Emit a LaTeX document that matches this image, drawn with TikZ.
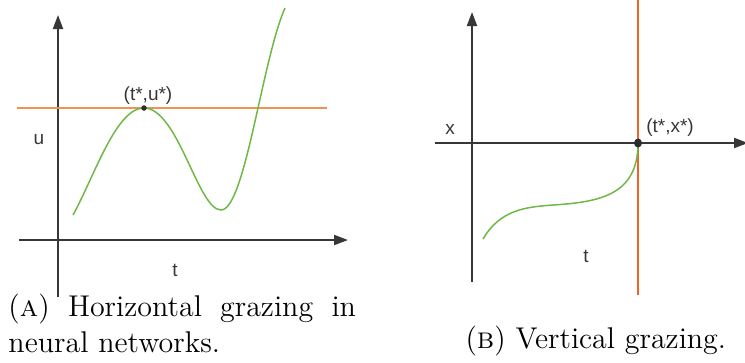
\documentclass[tikz,border=0pt]{standalone}
\usepackage{fontspec}
\newfontfamily\plotfont{Liberation Sans}
\usetikzlibrary{arrows.meta, positioning}
\definecolor{axisgray}{RGB}{55, 55, 55}
\definecolor{curvegreen}{RGB}{110, 185, 70}
\definecolor{lineorange}{RGB}{240, 145, 85}
\definecolor{lineorangeb}{RGB}{240, 100, 40}
\tikzset{
  axis/.style={-{Triangle[length=5.6pt, width=4pt]}, line width=0.8pt, color=axisgray},
  traj/.style={line width=0.6pt, color=curvegreen},
  graze/.style={line width=0.8pt, color=#1},
  graze/.default=lineorange,
  plotlabel/.style={inner sep=0pt, font=\plotfont\fontsize{7.6}{9}\selectfont, text=axisgray},
  caption/.style={inner sep=0pt, font=\fontsize{12}{14.5}\selectfont},
}

\begin{document}
\begin{tikzpicture}[x=0.4pt, y=-0.4pt]
  \useasboundingbox (0,0) rectangle (745,362);

  % (a) horizontal grazing
  \coordinate (a-ybot) at (58,297);
  \coordinate (a-ytop) at (58,15);
  \coordinate (a-xl) at (19,240);
  \coordinate (a-xr) at (348,240);
  \coordinate (a-gl) at (17,108);
  \coordinate (a-gr) at (327,108);
  \draw[axis] (a-ybot) -- (a-ytop);
  \draw[axis] (a-xl) -- (a-xr);
  \draw[graze] (a-gl) -- (a-gr);
  \draw[traj] (73,215) .. controls (95,175) and (116,108) .. (144,108)
                       .. controls (178,108) and (198,210) .. (221,210)
                       .. controls (245,210) and (262,60) .. (285,8);
  \fill[axisgray!80!black] (144,108) circle (1.1pt);
  \node[plotlabel] (a-pt) at (148,96) {(t*,u*)};
  \node[plotlabel] (a-u) at (39,140) {u};
  \node[plotlabel] (a-t) at (175,270) {t};

  % (b) vertical grazing
  \coordinate (b-ybot) at (472,282);
  \coordinate (b-ytop) at (472,12);
  \coordinate (b-xl) at (435,143);
  \coordinate (b-xr) at (748,143);
  \coordinate (b-gt) at (638,0);
  \coordinate (b-gb) at (638,295);
  \draw[axis] (b-ybot) -- (b-ytop);
  \draw[axis] (b-xl) -- (b-xr);
  \draw[graze=lineorangeb] (b-gt) -- (b-gb);
  \draw[traj] (483,239) .. controls (500,210) and (525,207) .. (553,205)
                        .. controls (600,202) and (638,195) .. (638,143);
  \fill[axisgray!80!black] (638,143) ellipse (1.6pt and 1.8pt);
  \node[plotlabel] (b-pt) at (670,128) {(t*,x*)};
  \node[plotlabel] (b-x) at (450,129) {x};
  \node[plotlabel] (b-t) at (586,256) {t};

  % captions
  \node[caption, text width=139pt, align=justify, anchor=north west] (cap-a) at (8,293)
    {(\textsc{a}) Horizontal grazing in neural networks.};
  \node[caption, anchor=base west] (cap-b) at (465,348)
    {(\textsc{b}) Vertical grazing.};
\end{tikzpicture}
\end{document}
